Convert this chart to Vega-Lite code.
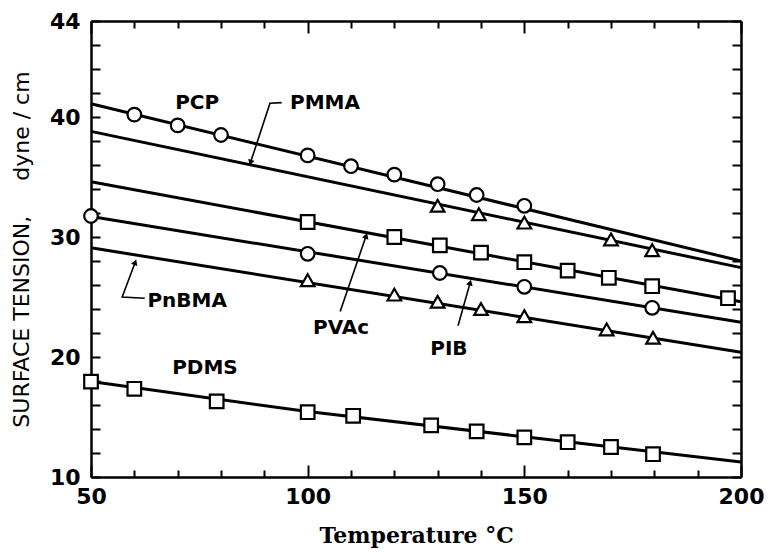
{
  "$schema": "https://vega.github.io/schema/vega-lite/v6.json",
  "width": 650,
  "height": 456,
  "autosize": {"type": "none"},
  "padding": {"left": 91, "top": 21, "right": 27, "bottom": 75},
  "background": "white",
  "config": {"view": {"stroke": null}, "axis": {"grid": false}},
  "datasets": {
    "fits": [
      {"series": "PCP", "T": 50, "gamma": 41.1},
      {"series": "PCP", "T": 200, "gamma": 28.0},
      {"series": "PMMA", "T": 50, "gamma": 38.8},
      {"series": "PMMA", "T": 200, "gamma": 27.45},
      {"series": "PVAc", "T": 50, "gamma": 34.6},
      {"series": "PVAc", "T": 200, "gamma": 24.6},
      {"series": "PIB", "T": 50, "gamma": 31.7},
      {"series": "PIB", "T": 200, "gamma": 22.9},
      {"series": "PnBMA", "T": 50, "gamma": 29.1},
      {"series": "PnBMA", "T": 200, "gamma": 20.4},
      {"series": "PDMS", "T": 50, "gamma": 17.95},
      {"series": "PDMS", "T": 100, "gamma": 15.45},
      {"series": "PDMS", "T": 150, "gamma": 13.35},
      {"series": "PDMS", "T": 200, "gamma": 11.25}
    ],
    "points": [
      {"series": "PCP", "T": 60, "gamma": 40.2},
      {"series": "PCP", "T": 70, "gamma": 39.3},
      {"series": "PCP", "T": 80, "gamma": 38.5},
      {"series": "PCP", "T": 100, "gamma": 36.8},
      {"series": "PCP", "T": 110, "gamma": 35.9},
      {"series": "PCP", "T": 120, "gamma": 35.2},
      {"series": "PCP", "T": 130, "gamma": 34.4},
      {"series": "PCP", "T": 139, "gamma": 33.5},
      {"series": "PCP", "T": 150, "gamma": 32.6},
      {"series": "PMMA", "T": 130, "gamma": 32.6},
      {"series": "PMMA", "T": 139.5, "gamma": 31.9},
      {"series": "PMMA", "T": 150, "gamma": 31.2},
      {"series": "PMMA", "T": 170, "gamma": 29.8},
      {"series": "PMMA", "T": 179.5, "gamma": 28.9},
      {"series": "PVAc", "T": 100, "gamma": 31.25},
      {"series": "PVAc", "T": 120, "gamma": 30.0},
      {"series": "PVAc", "T": 130.5, "gamma": 29.3},
      {"series": "PVAc", "T": 140, "gamma": 28.7},
      {"series": "PVAc", "T": 150, "gamma": 27.9},
      {"series": "PVAc", "T": 160, "gamma": 27.2},
      {"series": "PVAc", "T": 169.5, "gamma": 26.6},
      {"series": "PVAc", "T": 179.5, "gamma": 25.9},
      {"series": "PVAc", "T": 197, "gamma": 24.9},
      {"series": "PIB", "T": 50, "gamma": 31.75},
      {"series": "PIB", "T": 100, "gamma": 28.6},
      {"series": "PIB", "T": 130.5, "gamma": 27.0},
      {"series": "PIB", "T": 150, "gamma": 25.85},
      {"series": "PIB", "T": 179.5, "gamma": 24.1},
      {"series": "PnBMA", "T": 100, "gamma": 26.4},
      {"series": "PnBMA", "T": 120, "gamma": 25.2},
      {"series": "PnBMA", "T": 130, "gamma": 24.6},
      {"series": "PnBMA", "T": 140, "gamma": 24.0},
      {"series": "PnBMA", "T": 150, "gamma": 23.4},
      {"series": "PnBMA", "T": 169, "gamma": 22.3},
      {"series": "PnBMA", "T": 179.7, "gamma": 21.6},
      {"series": "PDMS", "T": 50, "gamma": 17.95},
      {"series": "PDMS", "T": 60, "gamma": 17.35},
      {"series": "PDMS", "T": 79, "gamma": 16.3},
      {"series": "PDMS", "T": 100, "gamma": 15.4},
      {"series": "PDMS", "T": 110.5, "gamma": 15.1},
      {"series": "PDMS", "T": 128.5, "gamma": 14.3},
      {"series": "PDMS", "T": 139, "gamma": 13.8},
      {"series": "PDMS", "T": 150, "gamma": 13.3},
      {"series": "PDMS", "T": 160, "gamma": 12.9},
      {"series": "PDMS", "T": 170, "gamma": 12.5},
      {"series": "PDMS", "T": 179.7, "gamma": 11.9}
    ],
    "labels": [
      {"text": "PCP", "T": 74.5, "gamma": 41.2},
      {"text": "PMMA", "T": 104, "gamma": 41.15},
      {"text": "PnBMA", "T": 72.2, "gamma": 24.7},
      {"text": "PVAc", "T": 107.7, "gamma": 22.45},
      {"text": "PIB", "T": 132.6, "gamma": 20.7},
      {"text": "PDMS", "T": 76.3, "gamma": 19.1}
    ],
    "leaders": [
      {"label": "PMMA", "step": 1, "T": 94.0, "gamma": 41.2},
      {"label": "PMMA", "step": 2, "T": 91.3, "gamma": 41.15},
      {"label": "PMMA", "step": 3, "T": 86.8, "gamma": 36.2},
      {"label": "PnBMA", "step": 1, "T": 62.4, "gamma": 24.9},
      {"label": "PnBMA", "step": 2, "T": 57.2, "gamma": 25.0},
      {"label": "PnBMA", "step": 3, "T": 60.2, "gamma": 27.9},
      {"label": "PVAc", "step": 1, "T": 107.5, "gamma": 23.8},
      {"label": "PVAc", "step": 2, "T": 113.5, "gamma": 30.1},
      {"label": "PIB", "step": 1, "T": 134.7, "gamma": 22.6},
      {"label": "PIB", "step": 2, "T": 137.5, "gamma": 26.2}
    ]
  },
  "layer": [
    {
      "data": {"name": "fits"},
      "mark": {"type": "line", "color": "black", "strokeWidth": 3},
      "encoding": {
        "x": {
          "field": "T", "type": "quantitative",
          "scale": {"domain": [50, 200], "nice": false, "zero": false},
          "axis": {
            "orient": "bottom",
            "values": [50, 60, 70, 80, 90, 100, 110, 120, 130, 140, 150, 160, 170, 180, 190, 200],
            "labelExpr": "datum.value % 50 === 0 ? datum.label : ''",
            "tickSize": {"condition": {"test": "datum.value % 50 === 0", "value": -12}, "value": -7},
            "tickColor": "black", "tickWidth": 2,
            "domainColor": "black", "domainWidth": 2.5,
            "labelFont": "DejaVu Sans", "labelFontWeight": "bold", "labelFontSize": 22,
            "labelColor": "black", "labelPadding": 21, "labelFlush": false, "labelOverlap": false,
            "title": "Temperature °C",
            "titleFont": "DejaVu Serif", "titleFontWeight": "bold", "titleFontSize": 22,
            "titleColor": "black", "titlePadding": 13
          }
        },
        "y": {
          "field": "gamma", "type": "quantitative",
          "scale": {"domain": [10, 48], "nice": false, "zero": false},
          "axis": {
            "orient": "left",
            "values": [10, 12, 14, 16, 18, 20, 22, 24, 26, 28, 30, 32, 34, 36, 38, 40, 42, 44, 46, 48],
            "labelExpr": "datum.value === 48 ? '44' : (datum.value % 10 === 0 ? datum.label : '')",
            "tickSize": -9,
            "tickColor": "black", "tickWidth": 2,
            "domainColor": "black", "domainWidth": 2.5,
            "labelFont": "DejaVu Sans", "labelFontWeight": "bold", "labelFontSize": 22,
            "labelColor": "black", "labelPadding": 20, "labelFlush": false, "labelOverlap": false,
            "title": "SURFACE TENSION,\u00a0\u00a0\u00a0\u00a0\u00a0dyne / cm",
            "titleFont": "DejaVu Sans", "titleFontWeight": "normal", "titleFontSize": 22,
            "titleColor": "black", "titlePadding": 16
          }
        },
        "detail": {"field": "series", "type": "nominal"}
      }
    },
    {
      "data": {"name": "points"},
      "mark": {"type": "point", "filled": false, "fill": "white", "fillOpacity": 1, "stroke": "black", "strokeWidth": 2.2, "opacity": 1},
      "encoding": {
        "x": {
          "field": "T", "type": "quantitative",
          "scale": {"domain": [50, 200], "nice": false, "zero": false},
          "axis": {
            "orient": "top",
            "values": [50, 60, 70, 80, 90, 100, 110, 120, 130, 140, 150, 160, 170, 180, 190, 200],
            "labels": false, "title": null,
            "tickSize": {"condition": {"test": "datum.value % 50 === 0", "value": -12}, "value": -7},
            "tickColor": "black", "tickWidth": 2,
            "domainColor": "black", "domainWidth": 2.5
          }
        },
        "y": {
          "field": "gamma", "type": "quantitative",
          "scale": {"domain": [10, 48], "nice": false, "zero": false},
          "axis": {
            "orient": "right",
            "values": [10, 12, 14, 16, 18, 20, 22, 24, 26, 28, 30, 32, 34, 36, 38, 40, 42, 44, 46, 48],
            "labels": false, "title": null,
            "tickSize": -9,
            "tickColor": "black", "tickWidth": 2,
            "domainColor": "black", "domainWidth": 2.5
          }
        },
        "shape": {
          "field": "series", "type": "nominal",
          "scale": {
            "domain": ["PCP", "PIB", "PVAc", "PDMS", "PMMA", "PnBMA"],
            "range": ["circle", "circle", "square", "square", "triangle-up", "triangle-up"]
          },
          "legend": null
        },
        "size": {
          "field": "series", "type": "nominal",
          "scale": {
            "domain": ["PCP", "PIB", "PVAc", "PDMS", "PMMA", "PnBMA"],
            "range": [185, 185, 190, 190, 230, 230]
          },
          "legend": null
        }
      }
    },
    {
      "data": {"name": "leaders"},
      "mark": {"type": "line", "color": "black", "strokeWidth": 1.6},
      "encoding": {
        "x": {"field": "T", "type": "quantitative", "axis": null},
        "y": {"field": "gamma", "type": "quantitative", "axis": null},
        "detail": {"field": "label", "type": "nominal"},
        "order": {"field": "step", "type": "quantitative"}
      }
    },
    {
      "data": {"name": "leaders"},
      "transform": [{"filter": "datum.label === 'PMMA' && datum.step === 3"}],
      "mark": {"type": "point", "shape": "triangle-up", "filled": true, "color": "black", "size": 45, "angle": 200, "opacity": 1},
      "encoding": {
        "x": {"field": "T", "type": "quantitative", "axis": null},
        "y": {"field": "gamma", "type": "quantitative", "axis": null}
      }
    },
    {
      "data": {"name": "leaders"},
      "transform": [{"filter": "datum.label === 'PnBMA' && datum.step === 3"}],
      "mark": {"type": "point", "shape": "triangle-up", "filled": true, "color": "black", "size": 45, "angle": 21, "opacity": 1},
      "encoding": {
        "x": {"field": "T", "type": "quantitative", "axis": null},
        "y": {"field": "gamma", "type": "quantitative", "axis": null}
      }
    },
    {
      "data": {"name": "leaders"},
      "transform": [{"filter": "datum.label === 'PVAc' && datum.step === 2"}],
      "mark": {"type": "point", "shape": "triangle-up", "filled": true, "color": "black", "size": 45, "angle": 19, "opacity": 1},
      "encoding": {
        "x": {"field": "T", "type": "quantitative", "axis": null},
        "y": {"field": "gamma", "type": "quantitative", "axis": null}
      }
    },
    {
      "data": {"name": "leaders"},
      "transform": [{"filter": "datum.label === 'PIB' && datum.step === 2"}],
      "mark": {"type": "point", "shape": "triangle-up", "filled": true, "color": "black", "size": 45, "angle": 15, "opacity": 1},
      "encoding": {
        "x": {"field": "T", "type": "quantitative", "axis": null},
        "y": {"field": "gamma", "type": "quantitative", "axis": null}
      }
    },
    {
      "data": {"name": "labels"},
      "mark": {"type": "text", "font": "DejaVu Sans", "fontWeight": "bold", "fontSize": 20, "color": "black", "align": "center", "baseline": "middle"},
      "encoding": {
        "x": {"field": "T", "type": "quantitative", "axis": null},
        "y": {"field": "gamma", "type": "quantitative", "axis": null},
        "text": {"field": "text", "type": "nominal"}
      }
    }
  ],
  "resolve": {"axis": {"x": "independent", "y": "independent"}}
}
